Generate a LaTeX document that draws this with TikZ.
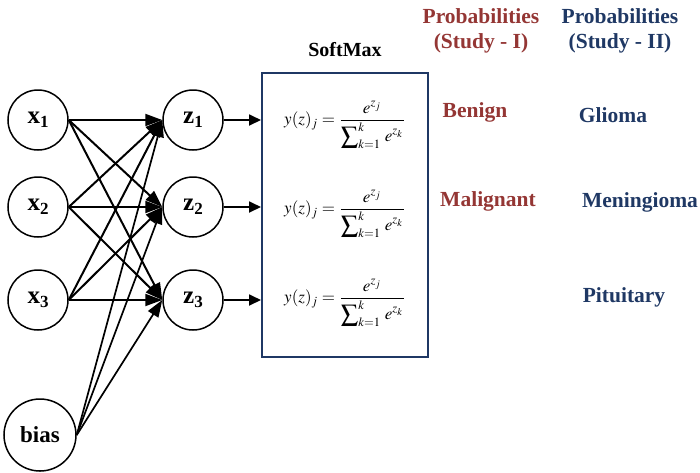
\documentclass[tikz,border=0pt]{standalone}
\usepackage{mathptmx}
\usepackage{fontspec}
\setmainfont{Liberation Serif}
\usetikzlibrary{arrows.meta}
\definecolor{dred}{HTML}{943634}
\definecolor{dblue}{HTML}{1F3864}
\newcommand{\sub}[1]{\raisebox{-3.5pt}{\fontsize{17}{17}\selectfont #1}}
\begin{document}
\begin{tikzpicture}[x=1pt,y=-1pt,
  neuron/.style={draw,circle,line width=1.5pt,minimum size=60pt,inner sep=0pt,font=\fontsize{25}{28}\selectfont\bfseries},
  conn/.style={line width=2pt,-{Triangle[length=17pt,width=12pt]}},
  outarr/.style={line width=1.8pt,-{Triangle[length=12pt,width=11pt]}},
  lbl/.style={font=\fontsize{21.5}{25}\selectfont\bfseries,align=center},
  formula/.style={scale=1.7,inner sep=0pt}]
\useasboundingbox (0,0) rectangle (700,472);
\node[neuron] (x1) at (38,120) {x\sub{1}};
\node[neuron] (x2) at (38,207) {x\sub{2}};
\node[neuron] (x3) at (38,300) {x\sub{3}};
\node[neuron,minimum size=72pt,font=\fontsize{23}{26}\selectfont\bfseries] (b) at (40,435) {bias};
\node[neuron] (z1) at (193,120) {z\sub{1}};
\node[neuron] (z2) at (193,207) {z\sub{2}};
\node[neuron] (z3) at (193,300) {z\sub{3}};
\foreach \i in {1,2,3}{
  \foreach \j in {1,2,3}{
    \draw[conn] (x\i.east) -- (z\j.west);
  }
  \draw[conn,line width=1.7pt] (b.east) -- (z\i.west);
}
\node[draw=dblue,line width=2pt,minimum width=166pt,minimum height=284pt] (box) at (345,215) {};
\node[font=\fontsize{20}{24}\selectfont\bfseries] (sm) at (345,50) {SoftMax};
\foreach \i/\y in {1/125,2/214,3/303}{
  \coordinate (t\i) at (box.west |- z\i);
  \draw[outarr] (z\i.east) -- (t\i);
  \node[formula] (f\i) at (345,\y) {$\displaystyle y(z)_j=\frac{e^{z_j}}{\displaystyle\sum\nolimits_{k=1}^{k}\,e^{z_k}}$};
}
\node[lbl,text=dred] (p1) at (481,31) {Probabilities\\(Study - I)};
\node[lbl,text=dblue] (p2) at (620,31) {Probabilities\\(Study - II)};
\node[lbl,text=dred] (c1) at (475,112) {Benign};
\node[lbl,text=dred] (c2) at (488,201) {Malignant};
\node[lbl,text=dblue] (d1) at (613,115) {Glioma};
\node[lbl,text=dblue] (d2) at (640,202) {Meningioma};
\node[lbl,text=dblue] (d3) at (624,297) {Pituitary};
\end{tikzpicture}
\end{document}
